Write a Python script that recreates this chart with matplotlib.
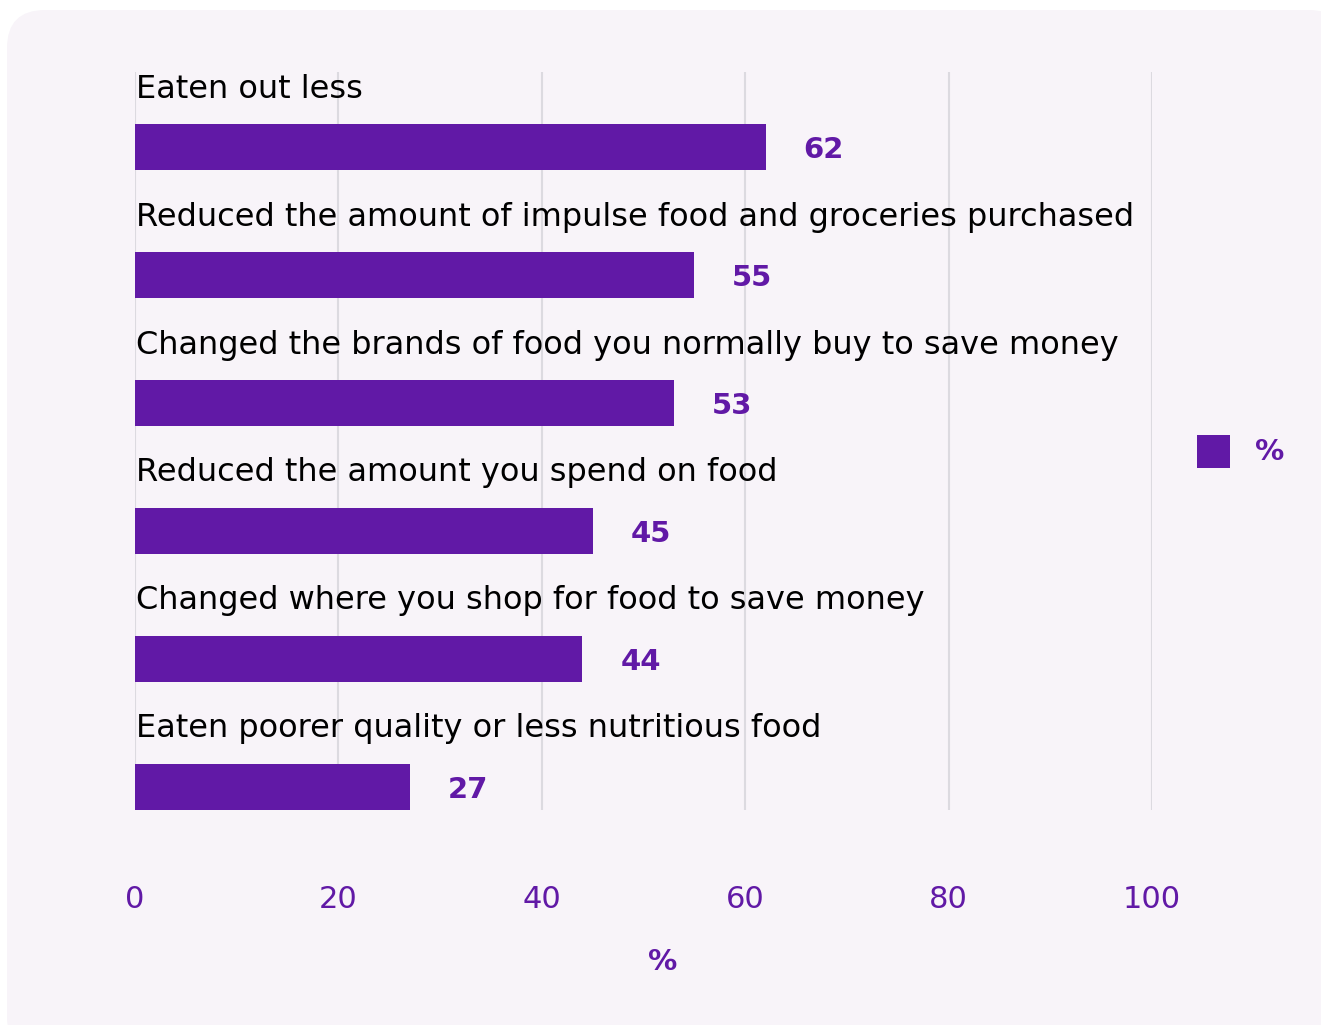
import matplotlib
matplotlib.use("Agg")
import matplotlib.pyplot as plt
from matplotlib.patches import FancyBboxPatch, Rectangle
from matplotlib.transforms import IdentityTransform

# survey responses, top to bottom
categories = [
    "Eaten out less",
    "Reduced the amount of impulse food and groceries purchased",
    "Changed the brands of food you normally buy to save money",
    "Reduced the amount you spend on food",
    "Changed where you shop for food to save money",
    "Eaten poorer quality or less nutritious food",
]
values = [62, 55, 53, 45, 44, 27]
x_ticks = [0, 20, 40, 60, 80, 100]
series_name = "%"

PURPLE = "#6119a6"
PANEL = "#f8f4f9"
GRID = "#dcdae0"

plt.rcParams["font.family"] = ["DejaVu Sans"]

fig = plt.figure(figsize=(13.21, 10.25), dpi=100)
fig.patch.set_facecolor("white")

# rounded background card
card = FancyBboxPatch((7 + 35, -30 + 35), 1340 - 70, 1045 - 70,
                      boxstyle="round,pad=35,rounding_size=38",
                      transform=IdentityTransform(), facecolor=PANEL,
                      edgecolor="none", zorder=-5)
fig.patches.append(card)

ax = fig.add_axes([135 / 1321, 1 - 810 / 1025, 1017 / 1321, 738 / 1025])
ax.set_facecolor("none")
ax.set_zorder(2)

pos = list(range(len(categories)))
ax.barh(pos, values, height=0.36, color=PURPLE, zorder=3)
ax.set_xlim(0, 100)
ax.set_ylim(5.18, -0.59)

for p, cat, v in zip(pos, categories, values):
    ax.text(0.1, p - 0.455, cat, fontsize=23, color="black", va="center", ha="left", zorder=4)
    ax.text(v + 5.7, p + 0.02, str(v), fontsize=21, fontweight="bold", color=PURPLE,
            va="center", ha="center", zorder=4)

ax.set_xticks(x_ticks)
ax.set_yticks([])
ax.grid(axis="x", color=GRID, linewidth=1.5, zorder=1)
ax.set_axisbelow(True)
ax.tick_params(axis="x", length=0, labelsize=22, labelcolor=PURPLE, pad=54)
for s in ax.spines.values():
    s.set_visible(False)
ax.set_xlabel("%", fontsize=21, fontweight="bold", color=PURPLE)
ax.xaxis.set_label_coords((663 - 135) / 1017, -(962 - 810) / 738)
ax.xaxis.label.set_va("center")

# legend on the right
fig.patches.append(Rectangle((1197, 1025 - 468), 33, 33, transform=IdentityTransform(),
                             facecolor=PURPLE, edgecolor="none", zorder=3))
fig.text(1255 / 1321, 1 - 452 / 1025, series_name, fontsize=21, fontweight="bold",
         color=PURPLE, va="center", ha="left")

fig.savefig("out.png", dpi=100, facecolor="white")
